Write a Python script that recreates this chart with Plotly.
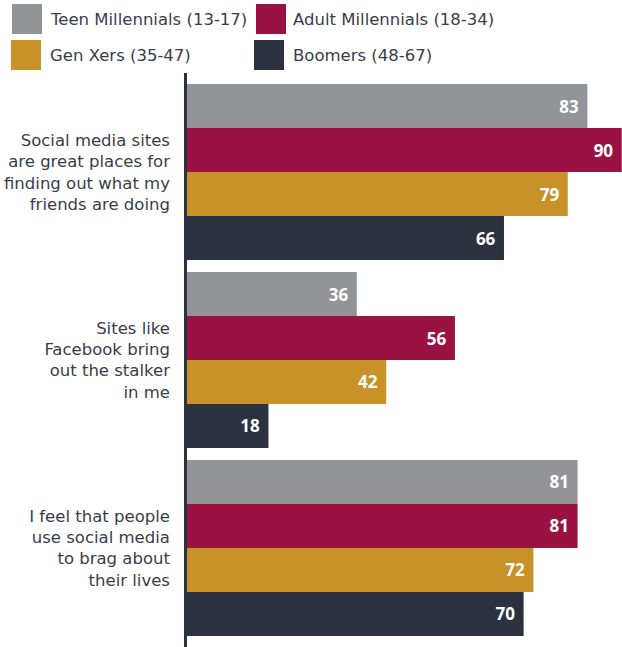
import plotly.graph_objects as go

# Survey statements (y categories) and respondent groups (series)
statements = [
    "Social media sites<br>are great places for<br>finding out what my<br>friends are doing",
    "Sites like<br>Facebook bring<br>out the stalker<br>in me",
    "I feel that people<br>use social media<br>to brag about<br>their lives",
]
series_names = [
    "Teen Millennials (13-17)",
    "Adult Millennials (18-34)",
    "Gen Xers (35-47)",
    "Boomers (48-67)",
]
teen = [83, 36, 81]
adult = [90, 56, 81]
genx = [79, 42, 72]
boomers = [66, 18, 70]
series_values = [teen, adult, genx, boomers]
colors = ["#939498", "#9a1242", "#c89228", "#2c3140"]

W, H = 622, 647
M_L, M_T = 187, 73
LABEL_FONT = "DejaVu Sans"
VALUE_FONT = "Open Sans"
TEXT_COLOR = "#393d4a"

positions = list(range(len(statements)))

fig = go.Figure()
for name, vals, col in zip(series_names, series_values, colors):
    fig.add_trace(go.Bar(
        y=positions,
        x=vals,
        orientation="h",
        name=name,
        marker=dict(color=col, line=dict(width=0)),
        texttemplate="%{x}\u2004",
        textposition="inside",
        insidetextanchor="end",
        textfont=dict(family=VALUE_FONT, size=17, color="white", weight="bold"),
        showlegend=False,
        hoverinfo="skip",
    ))

# Hand-built legend: two rows, two columns of square swatches with labels
legend_items = [  # (swatch left px, swatch top px, text left px)
    (12, 4, 50), (256, 4, 293),
    (11, 40, 50), (254, 40, 293),
]
PW, PH = W - M_L, H - M_T


def px_x(p):
    return (p - M_L) / PW


def px_y(p):
    return 1 + (M_T - p) / PH


for name, col, (sx, sy, tx) in zip(series_names, colors, legend_items):
    fig.add_shape(
        type="rect", xref="paper", yref="paper",
        x0=px_x(sx), x1=px_x(sx + 30), y0=px_y(sy), y1=px_y(sy + 30),
        fillcolor=col, line=dict(width=0),
    )
    fig.add_annotation(
        xref="paper", yref="paper",
        x=px_x(tx), y=px_y(sy + 15),
        text=name, showarrow=False, xanchor="left", yanchor="middle",
        xshift=-1, borderpad=0,
        font=dict(family=LABEL_FONT, size=16.5, color=TEXT_COLOR),
    )

fig.update_layout(
    width=W, height=H,
    margin=dict(l=M_L, r=0, t=M_T, b=0, pad=0),
    paper_bgcolor="white", plot_bgcolor="white",
    barmode="group", bargap=0.064, bargroupgap=0,
    xaxis=dict(range=[1.4, 90.05], visible=False, fixedrange=True),
    yaxis=dict(
        range=[2.527, -0.527],
        tickmode="array", tickvals=positions, ticktext=statements,
        tickfont=dict(family=LABEL_FONT, size=16.5, color=TEXT_COLOR),
        showline=True, linecolor="#2c3140", linewidth=2.5,
        showgrid=False, zeroline=False,
        ticks="", ticklabelstandoff=11,
    ),
)

fig.write_html("out.html")
